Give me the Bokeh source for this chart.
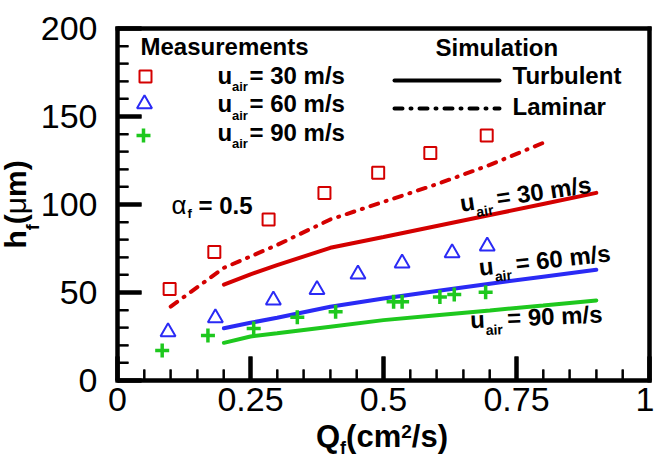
import math
from bokeh.plotting import figure
from bokeh.models import Range1d, FixedTicker, LinearAxis, ColumnDataSource
from bokeh.core.properties import value, field
from bokeh.embed import file_html
from bokeh.resources import INLINE

# ---------------- data ----------------
# Measurements
q_meas_u30 = [0.098, 0.182, 0.284, 0.389, 0.49, 0.588, 0.694]
h_meas_u30 = [52, 73, 91.5, 106.5, 118, 129.3, 139.2]
q_meas_u60 = [0.095, 0.184, 0.293, 0.375, 0.452, 0.535, 0.629, 0.695]
h_meas_u60 = [27.6, 35.6, 45.6, 51.6, 60.4, 66.6, 72.5, 76.3]
q_meas_u90 = [0.084, 0.17, 0.256, 0.338, 0.41, 0.519, 0.535, 0.606, 0.633, 0.692]
h_meas_u90 = [17, 25.6, 29.5, 36, 39, 44.8, 44.8, 47.5, 48.8, 50.1]

# Simulation (turbulent)
q_turb = [0.2, 0.25, 0.3, 0.4, 0.5, 0.6, 0.7, 0.8, 0.9]
h_turb_u30 = [54.5, 60.3, 65.5, 75.4, 81.5, 87.8, 94, 100.3, 106.6]
h_turb_u60 = [29.7, 32.8, 35.7, 41.9, 46.6, 50.9, 55, 59, 62.9]
h_turb_u90 = [21.4, 25, 26.8, 30.6, 34.3, 37.1, 39.8, 42.6, 45.5]
# Simulation (laminar)
q_lam = [0.1, 0.2, 0.3, 0.4, 0.5, 0.6, 0.7, 0.8]
h_lam_u30 = [42, 64, 77, 91.5, 101.5, 111.5, 122.5, 135]

x_ticks = [0, 0.25, 0.5, 0.75, 1]
x_tick_labels = ["0", "0.25", "0.5", "0.75", "1"]
x_minor = [i * 0.05 for i in range(21)]
y_ticks = [0, 50, 100, 150, 200]
y_tick_labels = ["0", "50", "100", "150", "200"]
y_minor = list(range(0, 201, 10))
x_lim = [0, 1]
y_lim = [0, 200]

# ---------------- style ----------------
RED = "#d40000"
BLUE = "#2a2af5"
GREEN = "#1ec81e"
FONT = "Liberation Sans"

# canvas layout: plot box from x=117..649 px, y=28..380 px on a 654x459 canvas
BOX_L, BOX_R, BOX_T, BOX_B, W, H = 117, 649, 28, 380, 654, 459
PX_X = (BOX_R - BOX_L) / 1.0      # px per unit Q
PX_Y = (BOX_B - BOX_T) / 200.0    # px per unit h

p = figure(width=W, height=H, output_backend="svg", toolbar_location=None,
           x_range=Range1d(-BOX_L / PX_X, (W - BOX_L) / PX_X),
           y_range=Range1d(-(H - BOX_B) / PX_Y, 200 + BOX_T / PX_Y),
           min_border=0)
p.grid.visible = False
p.outline_line_color = None

xa = p.below[0]
ya = p.left[0]
xa.fixed_location = 0
ya.fixed_location = 0
xa.bounds = (0, 1)
ya.bounds = (0, 200)
xa.ticker = FixedTicker(ticks=x_ticks, minor_ticks=x_minor)
ya.ticker = FixedTicker(ticks=y_ticks, minor_ticks=y_minor)
xa.major_label_overrides = {t: l for t, l in zip(x_ticks, x_tick_labels)}
ya.major_label_overrides = {t: l for t, l in zip(y_ticks, y_tick_labels)}
for ax in (xa, ya):
    ax.axis_line_width = 4
    ax.axis_line_color = "black"
    ax.axis_line_cap = "square"
    ax.major_tick_in = 24
    ax.major_tick_out = 0
    ax.major_tick_line_width = 4
    ax.minor_tick_in = 11
    ax.minor_tick_out = 0
    ax.minor_tick_line_width = 2
    ax.major_label_text_font = FONT
    ax.major_label_text_font_size = "34px"
    ax.major_label_text_color = "black"
xa.major_label_standoff = 7
ya.major_label_standoff = 20

# top and right edges of the box
top = LinearAxis(fixed_location=200, bounds=(0, 1), ticker=FixedTicker(ticks=[]),
                 axis_line_width=4, axis_line_cap="square", major_tick_in=0, major_tick_out=0,
                 minor_tick_in=0, minor_tick_out=0, major_label_text_font_size="0px")
right = LinearAxis(fixed_location=1, bounds=(0, 200), ticker=FixedTicker(ticks=[]),
                   axis_line_width=4, axis_line_cap="square", major_tick_in=0, major_tick_out=0,
                   minor_tick_in=0, minor_tick_out=0, major_label_text_font_size="0px")
p.add_layout(top, "above")
p.add_layout(right, "right")

# ---------------- frame box and tick marks (drawn as glyphs too) ----------------
MAJ, MIN = 24, 11   # tick lengths in px
p.segment(x0=x_minor, y0=[y_lim[0]] * len(x_minor), x1=x_minor,
          y1=[y_lim[0] + MIN / PX_Y] * len(x_minor), line_color="black", line_width=2)
p.segment(x0=[x_lim[0]] * len(y_minor), y0=y_minor, x1=[x_lim[0] + MIN / PX_X] * len(y_minor),
          y1=y_minor, line_color="black", line_width=2)
p.segment(x0=x_ticks, y0=[y_lim[0]] * len(x_ticks), x1=x_ticks,
          y1=[y_lim[0] + MAJ / PX_Y] * len(x_ticks), line_color="black", line_width=4)
p.segment(x0=[x_lim[0]] * len(y_ticks), y0=y_ticks, x1=[x_lim[0] + MAJ / PX_X] * len(y_ticks),
          y1=y_ticks, line_color="black", line_width=4)
p.line([x_lim[0], x_lim[1], x_lim[1], x_lim[0], x_lim[0]],
       [y_lim[0], y_lim[0], y_lim[1], y_lim[1], y_lim[0]],
       line_color="black", line_width=4, line_join="miter")

# ---------------- helpers (canvas px -> data) ----------------
def dx(px):
    return (px - BOX_L) / PX_X

def dy(py):
    return (BOX_B - py) / PX_Y

W_BOLD = {'u': .611, 'a': .556, 'i': .278, 'r': .389, ' ': .278, '=': .584, 'm': .889,
          '/': .278, 's': .556, 'f': .333, '(': .333, ')': .333, 'c': .556, 'Q': .778,
          'h': .611, '.': .278, 'μ': .576, 'α': .589}

def text_width(s, size):
    return sum(W_BOLD.get(c, .556) for c in s) * size

T = dict(x=[], y=[], text=[], size=[], style=[], angle=[])

def lab(px, py, text, size, bold=True, angle=0):
    a = math.radians(angle)
    corr = (0.85 if angle > 45 else 0.3) * size   # renderer draws the baseline lower
    px -= corr * math.sin(a)
    py -= corr * math.cos(a)
    T["x"].append(dx(px)); T["y"].append(dy(py)); T["text"].append(text)
    T["size"].append(f"{size}px"); T["style"].append("bold" if bold else "normal")
    T["angle"].append(a)

def rich(px, py, pieces, angle=0):
    """pieces: (text, size, bold, shift_down_px, along_px or None)"""
    a = math.radians(angle)
    along = 0.0
    for text, size, bold, shift, pos in pieces:
        if pos is not None:
            along = pos
        x = px + along * math.cos(a) + shift * math.sin(a)
        y = py - along * math.sin(a) + shift * math.cos(a)
        lab(x, y, text, size, bold, angle)
        along += text_width(text, size)

# ---------------- data glyphs ----------------
p.line(q_lam, h_lam_u30, line_color=RED, line_width=4, line_dash="8 8 1 8", line_cap="round")
p.line(q_turb, h_turb_u30, line_color=RED, line_width=4, line_cap="round")
p.line(q_turb, h_turb_u60, line_color=BLUE, line_width=4, line_cap="round")
p.line(q_turb, h_turb_u90, line_color=GREEN, line_width=4, line_cap="round")

p.scatter(q_meas_u30, h_meas_u30, marker="square", size=12, fill_color=None,
          line_color=RED, line_width=2)
p.scatter(q_meas_u60, h_meas_u60, marker="triangle", size=15, fill_color=None,
          line_color=BLUE, line_width=2)
p.scatter(q_meas_u90, h_meas_u90, marker="cross", size=14, line_color=GREEN, line_width=3.5)

# ---------------- legend ----------------
p.scatter([dx(145), dx(144), dx(143)], [dy(76), dy(103.5), dy(135)],
          marker=["square", "triangle", "cross"], size=[12, 15, 14],
          fill_color=None, line_color=[RED, BLUE, GREEN], line_width=[2, 2, 3.5])
p.multi_line([[dx(394), dx(499)]], [[dy(80), dy(80)]], line_color="black", line_width=4, line_cap="round")
p.multi_line([[dx(394), dx(499)]], [[dy(108), dy(108)]], line_color="black", line_width=4,
             line_dash="8 8 1 8", line_cap="round")

lab(140, 53, "Measurements", 24)
lab(435, 54, "Simulation", 24)
for base, spd in ((82, "30"), (110.5, "60"), (139, "90")):
    rich(217, base, [("u", 24, True, 0, 0), ("air", 13, True, 8, 14.5),
                     (f"= {spd} m/s", 24, True, 0, 32)])
lab(512, 82, "Turbulent", 24)
lab(512, 113, "Laminar", 24)

# ---------------- annotations ----------------
lab(171, 212, "α", 26, bold=False)
lab(187, 217, "f", 13)
lab(198, 212, "= 0.5", 24)

for (x0, y0, ang, spd) in ((460.5, 210, 8.4, "30"), (479, 274, 6.3, "60"), (470, 326.5, 2.6, "90")):
    rich(x0, y0, [("u", 24, True, 0, 0), ("air", 14, True, 8, 15),
                  (f"= {spd} m/s", 24, True, 0, 37)], angle=ang)

# axis titles
rich(40, 248, [("h", 30, True, 0, None), ("f", 18, True, 8, None), ("(", 30, True, 0, None),
               ("μ", 30, False, 0, None), ("m", 30, True, 0, None), (")", 30, True, 0, None)],
     angle=90)
rich(315.5, 445, [("Q", 31, True, 0, None), ("f", 18, True, 8, None), ("(cm", 31, True, 0, None),
                  ("2", 19, True, -8, None), ("/s)", 31, True, 0, None)])

src = ColumnDataSource(T)
p.text(x="x", y="y", text="text", source=src, text_font=value(FONT),
       text_font_size=field("size"), text_font_style=field("style"), angle=field("angle"),
       text_color="black", text_baseline="alphabetic", text_align="left")

open("out.html", "w").write(file_html(p, INLINE))
